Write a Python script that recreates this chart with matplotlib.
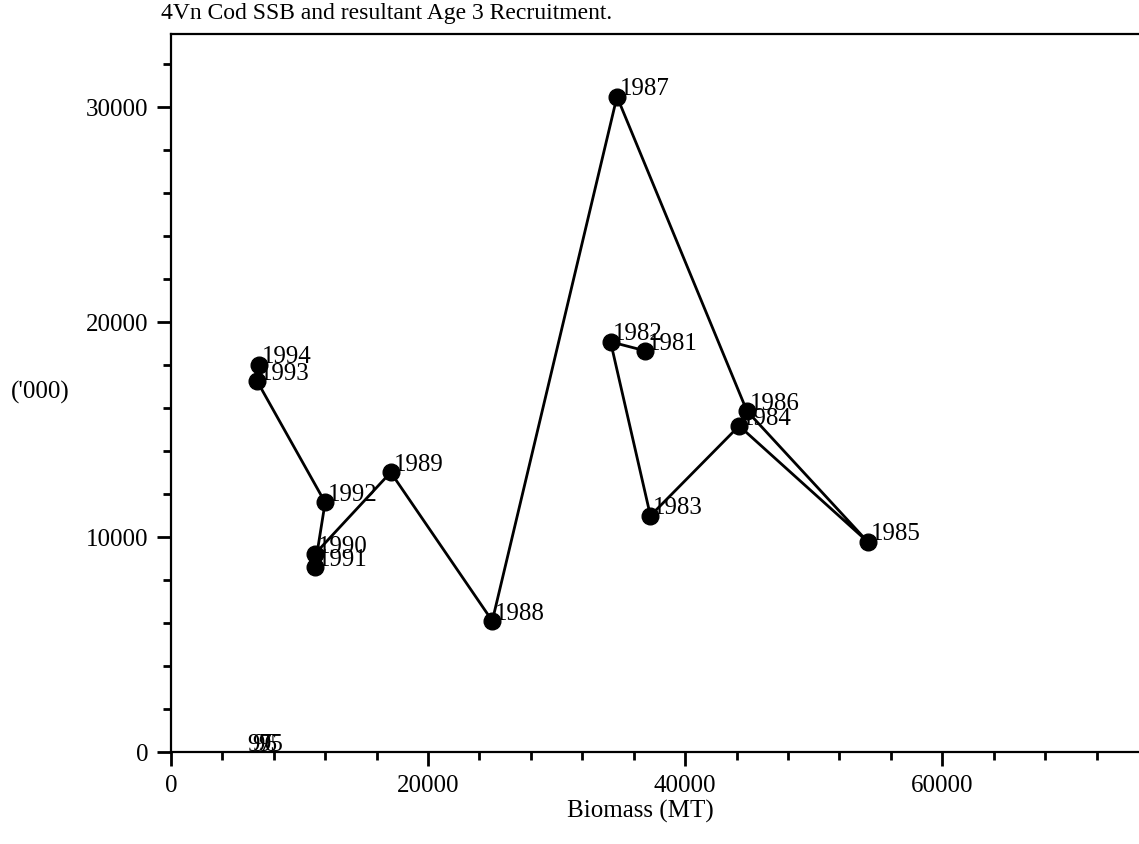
#!/usr/bin/env python
import matplotlib
matplotlib.use('Agg')
import matplotlib.pyplot as plt
from matplotlib.ticker import MultipleLocator

plt.rcParams['font.family'] = ['Liberation Serif', 'DejaVu Serif']

# SSB (biomass, MT) and age 3 recruitment ('000), connected in year order
years = ['1981', '1982', '1983', '1984', '1985', '1986', '1987',
         '1988', '1989', '1990', '1991', '1992', '1993', '1994']
ssb = [36900, 34200, 37300, 44200, 54200, 44800, 34700,
       25000, 17100, 11200, 11200, 12000, 6700, 6850]
recruits = [18650, 19070, 10980, 15160, 9770, 15860, 30470,
            6090, 13000, 9200, 8600, 11600, 17250, 18000]

# years with no recruitment estimate: only the labels show, at zero
# (they overlap in the original too)
zero_years = ['95', '96', '97']
zero_ssb = [6550, 6100, 5700]
zero_recruits = [0, 0, 0]

fig = plt.figure(figsize=(11.39, 8.45), dpi=100)
ax = fig.add_axes([0.150, 0.109, 0.850, 0.850])

ax.plot(ssb, recruits, color='black', lw=2.0, marker='o', ms=12,
        mfc='black', mec='black', zorder=3)

for yr, x, y in zip(years, ssb, recruits):
    ax.annotate(yr, (x, y), xytext=(2, 6), textcoords='offset points',
                ha='left', va='center', fontsize=18, zorder=4)
for yr, x, y in zip(zero_years, zero_ssb, zero_recruits):
    ax.annotate(yr, (x, y), xytext=(2, 6), textcoords='offset points',
                ha='left', va='center', fontsize=18, zorder=4)

ax.set_xlim(0, 75300)
ax.set_ylim(0, 33400)

ax.xaxis.set_major_locator(MultipleLocator(20000))
ax.xaxis.set_minor_locator(MultipleLocator(4000))
ax.yaxis.set_major_locator(MultipleLocator(10000))
ax.yaxis.set_minor_locator(MultipleLocator(2000))

ax.tick_params(which='major', length=10, width=2, labelsize=18, pad=6)
ax.tick_params(which='minor', length=6, width=2)
ax.tick_params(axis='x', which='both', direction='out')
ax.tick_params(axis='y', which='both', direction='out')

ax.spines['right'].set_visible(False)
for side in ['left', 'bottom', 'top']:
    ax.spines[side].set_linewidth(1.6)

ax.set_xlabel('Biomass (MT)', fontsize=18)
ax.xaxis.set_label_coords(0.485, -0.066)
fig.text(0.035, 1 - 392 / 845, "('000)", fontsize=18, ha='center', va='center')
fig.text(0.141, 1 - 13 / 845, '4Vn Cod SSB and resultant Age 3 Recruitment.',
         fontsize=17, ha='left', va='center')

fig.savefig('out.png', dpi=100)
